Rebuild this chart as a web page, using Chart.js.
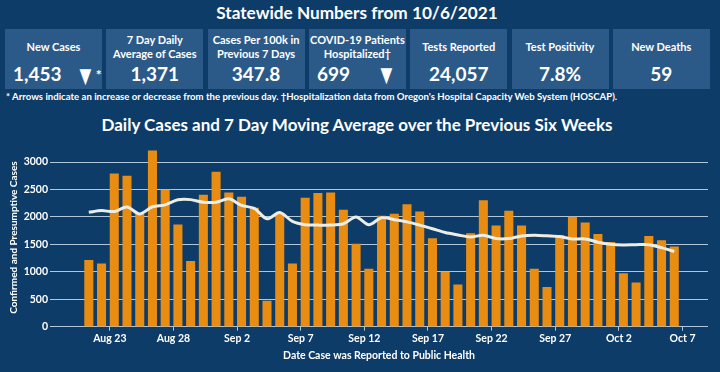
<!DOCTYPE html>
<html>
<head>
<meta charset="utf-8">
<script src="https://cdn.jsdelivr.net/npm/chart.js@4/dist/chart.umd.min.js"></script>
<style>
  html, body { margin: 0; padding: 0; }
  body { width: 720px; height: 372px; background: #0e3c69; position: relative; overflow: hidden; font-family: Lato, "Liberation Sans", sans-serif; color: #fff; }
  #title { position: absolute; top: 2px; left: 0; width: 714px; text-align: center; font-weight: 700; font-size: 17.2px; }
  .box { position: absolute; top: 29px; height: 60px; width: 97px; background: #2c5a88; }
  .lab { position: absolute; left: 0; width: 100%; text-align: center; font-weight: 700; font-size: 11px; line-height: 14px; }
  .val { position: absolute; top: 63px; font-weight: 700; font-size: 19px; }
  .arr { position: absolute; font-weight: 700; font-size: 19px; line-height: 22px; white-space: nowrap; }
  .arr span { display: inline-block; transform: scale(1.05, 1.45); transform-origin: 50% 60%; }
  .arr sup { font-size: 14px; vertical-align: 3px; margin-left: 1px; }
  #note { position: absolute; top: 91px; left: 6px; font-weight: 700; font-size: 9.6px; white-space: nowrap; }
  #ctitle { position: absolute; top: 114px; left: 0; width: 714px; text-align: center; font-weight: 700; font-size: 17px; }
  #wrap { position: absolute; top: 140px; left: 0; width: 720px; height: 232px; }
</style>
</head>
<body>
<div id="title">Statewide Numbers from 10/6/2021</div>
<div id="boxes"></div>
<div id="note">* Arrows indicate an increase or decrease from the previous day. †Hospitalization data from Oregon's Hospital Capacity Web System (HOSCAP).</div>
<div id="ctitle">Daily Cases and 7 Day Moving Average over the Previous Six Weeks</div>
<div id="wrap"><canvas id="c"></canvas></div>
<script>
// ---- header data ----
const statLabels = [["New Cases"], ["7 Day Daily", "Average of Cases"], ["Cases Per 100k in", "Previous 7 Days"], ["COVID-19 Patients", "Hospitalized†"], ["Tests Reported"], ["Test Positivity"], ["New Deaths"]];
const statValues = ["1,453", "1,371", "347.8", "699", "24,057", "7.8%", "59"];
const statArrows = ["▼", "", "", "▼", "", "", ""];
const statMarks = ["*", "", "", "", "", "", ""];

// ---- chart data ----
const dates = [
  "2021-08-21","2021-08-22","2021-08-23","2021-08-24","2021-08-25","2021-08-26","2021-08-27","2021-08-28","2021-08-29","2021-08-30","2021-08-31",
  "2021-09-01","2021-09-02","2021-09-03","2021-09-04","2021-09-05","2021-09-06","2021-09-07","2021-09-08","2021-09-09","2021-09-10",
  "2021-09-11","2021-09-12","2021-09-13","2021-09-14","2021-09-15","2021-09-16","2021-09-17","2021-09-18","2021-09-19","2021-09-20",
  "2021-09-21","2021-09-22","2021-09-23","2021-09-24","2021-09-25","2021-09-26","2021-09-27","2021-09-28","2021-09-29","2021-09-30",
  "2021-10-01","2021-10-02","2021-10-03","2021-10-04","2021-10-05","2021-10-06"
];
const dailyCases = [
  1211,1146,2786,2745,2047,3204,2488,1856,1193,2399,2816,
  2440,2363,2160,465,2064,1146,2345,2429,2440,2124,
  1504,1050,2017,2053,2226,2094,1605,997,764,1695,
  2297,1838,2106,1838,1050,716,1659,1999,1891,1683,
  1539,967,800,1647,1569,1453
];
const movingAvg7 = [
  2085,2115,2098,2180,2055,2185,2220,2312,2315,2268,2268,
  2330,2210,2155,1965,2080,1918,1858,1851,1851,1875,
  2000,1858,1985,1950,1910,1851,1785,1715,1672,1635,
  1665,1605,1605,1652,1665,1655,1642,1598,1598,1540,
  1502,1490,1495,1495,1440,1371
];
const tickDates = ["2021-08-23","2021-08-28","2021-09-02","2021-09-07","2021-09-12","2021-09-17","2021-09-22","2021-09-27","2021-10-02","2021-10-07"];
const yTicks = [0, 500, 1000, 1500, 2000, 2500, 3000];

// ---- header build ----
const boxesEl = document.getElementById('boxes');
statLabels.forEach((lab, i) => {
  const b = document.createElement('div');
  b.className = 'box';
  b.style.left = (5 + i * 101.3) + 'px';
  const l = document.createElement('div');
  l.className = 'lab';
  l.style.top = (lab.length === 1 ? 11 : 4) + 'px';
  l.innerHTML = lab.join('<br>');
  b.appendChild(l);
  const v = document.createElement('div');
  v.className = 'val';
  v.style.top = '33px';
  if (statArrows[i]) {
    v.style.left = '8px';
    v.textContent = statValues[i];
    const a = document.createElement('div');
    a.className = 'arr';
    a.style.top = '35px';
    a.style.left = (i === 0 ? 71 : 68) + 'px';
    const s = document.createElement('span');
    s.textContent = statArrows[i];
    a.appendChild(s);
    if (statMarks[i]) { const m = document.createElement('sup'); m.textContent = statMarks[i]; a.appendChild(m); }
    b.appendChild(a);
  } else {
    v.style.left = '0'; v.style.width = '100%'; v.style.textAlign = 'center';
    v.textContent = statValues[i];
  }
  b.appendChild(v);
  boxesEl.appendChild(b);
});

// ---- chart ----
const DAY = 86400000;
const t0 = Date.parse(dates[0] + 'T00:00:00Z');
const dayOf = s => (Date.parse(s + 'T00:00:00Z') - t0) / DAY;
const MON = ['Jan','Feb','Mar','Apr','May','Jun','Jul','Aug','Sep','Oct','Nov','Dec'];
const fmt = s => { const d = new Date(s + 'T00:00:00Z'); return MON[d.getUTCMonth()] + ' ' + d.getUTCDate(); };
const BAR_OFF = 0.35;
const barPts = dates.map((d, i) => ({ x: dayOf(d) + BAR_OFF, y: dailyCases[i] }));
const avgPts = dates.map((d, i) => ({ x: dayOf(d) + BAR_OFF, y: movingAvg7[i] }));
const tickMap = {};
tickDates.forEach(d => { tickMap[dayOf(d)] = fmt(d); });

const white = '#ffffff';
const gridCol = 'rgba(205,222,240,0.85)';
const FAM = 'Lato, "Liberation Sans", sans-serif';
const fontTick = { family: FAM, weight: 'bold', size: 10.5 };

new Chart(document.getElementById('c'), {
  data: {
    datasets: [
      { type: 'line', label: '7 Day Moving Average', data: avgPts, borderColor: '#eceee6', borderWidth: 3, pointRadius: 0, tension: 0.3, order: 0 },
      { type: 'bar', label: 'Daily Cases', data: barPts, backgroundColor: '#e88c12', barThickness: 8.4, order: 1 }
    ]
  },
  options: {
    responsive: true,
    maintainAspectRatio: false,
    animation: false,
    devicePixelRatio: 1,
    layout: { padding: { top: 5, right: 12, left: 0, bottom: 0 } },
    plugins: { legend: { display: false }, tooltip: { enabled: false } },
    scales: {
      x: {
        type: 'linear',
        offset: false,
        min: -2.7,
        max: 49.0,
        afterBuildTicks: ax => { ax.ticks = tickDates.map(d => ({ value: dayOf(d) })); },
        afterFit: s => { s.height = 45.3; },
        ticks: { color: white, font: fontTick, padding: 2, maxRotation: 0, autoSkip: false, callback: v => tickMap[v] || '' },
        grid: { display: true, drawOnChartArea: false, drawTicks: true, tickLength: 4, color: gridCol, offset: false },
        border: { display: false },
        title: { display: true, text: 'Date Case was Reported to Public Health', color: white, font: { family: FAM, weight: 'bold', size: 10.5 }, padding: { top: 0, bottom: 10 } }
      },
      y: {
        min: 0,
        max: 3250,
        afterBuildTicks: ax => { ax.ticks = yTicks.map(v => ({ value: v })); },
        afterFit: s => { s.width = 50; },
        ticks: { color: white, font: fontTick, padding: 2, callback: v => String(v) },
        grid: { color: gridCol, lineWidth: 1, drawTicks: false },
        border: { display: false },
        title: { display: true, text: 'Confirmed and Presumptive Cases', color: white, font: { family: FAM, weight: 'bold', size: 10 }, padding: { top: 8, bottom: 0 } }
      }
    }
  }
});
</script>
</body>
</html>
